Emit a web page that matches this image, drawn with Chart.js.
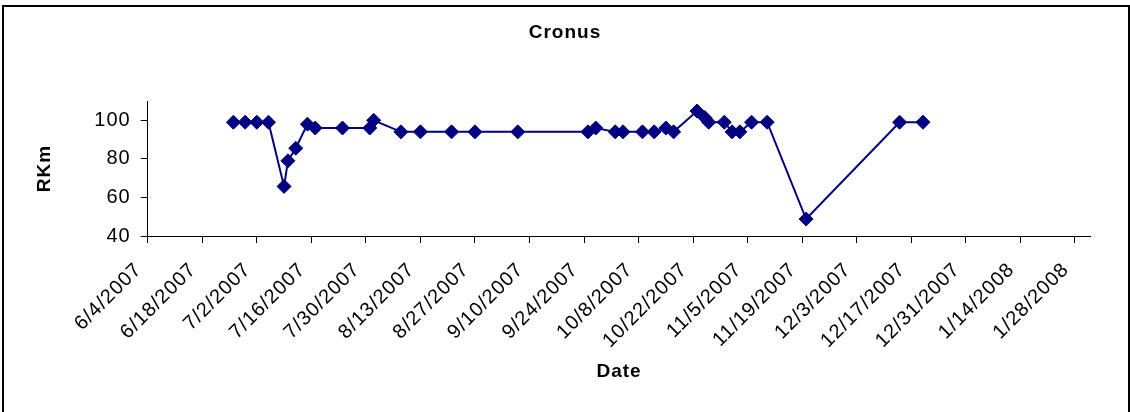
<!DOCTYPE html>
<html><head><meta charset="utf-8">
<script src="https://cdn.jsdelivr.net/npm/chart.js@4.4.0/dist/chart.umd.min.js"></script>
<style>html,body{margin:0;padding:0;background:#fff;} canvas{display:block;}</style>
</head><body>
<canvas id="c" width="1130" height="412"></canvas>
<script>
// ---- data ----
const dates = ['6/26/2007','6/29/2007','7/2/2007','7/5/2007','7/9/2007','7/10/2007','7/12/2007','7/15/2007','7/17/2007','7/24/2007',
  '7/31/2007','8/1/2007','8/8/2007','8/13/2007','8/21/2007','8/27/2007','9/7/2007','9/25/2007','9/27/2007','10/2/2007',
  '10/4/2007','10/9/2007','10/12/2007','10/15/2007','10/17/2007','10/23/2007','10/25/2007','10/26/2007','10/30/2007','11/1/2007',
  '11/3/2007','11/6/2007','11/10/2007','11/20/2007','12/14/2007','12/20/2007'];
const rkm = [99,99,99,99,65.7,79,85.5,98,96,96,
  96,100,94,94,94,94,94,94,96,94,
  94,94,94,96,94,104.8,101.4,99,99,94,
  94,99,99,48.8,99,99];
const xTickLabels = ['6/4/2007','6/18/2007','7/2/2007','7/16/2007','7/30/2007','8/13/2007','8/27/2007','9/10/2007','9/24/2007',
  '10/8/2007','10/22/2007','11/5/2007','11/19/2007','12/3/2007','12/17/2007','12/31/2007','1/14/2008','1/28/2008'];
const xAxisStart = '6/4/2007';
const xAxisEnd = '2/1/2008';
const yTickValues = [40,60,80,100];
const yAxisMin = 40, yAxisMax = 110;
const chartTitle = 'Cronus', xTitle = 'Date', yTitle = 'RKm';

// ---- helpers ----
function dayNum(s){const [m,d,y]=s.split('/').map(Number);return (Date.UTC(y,m-1,d)-Date.UTC(2007,5,4))/86400000;}
const points = dates.map((d,i)=>({x:dayNum(d), y:rkm[i]}));

const FONT = "'Liberation Sans', Arial, sans-serif";
Chart.defaults.font.family = FONT;
Chart.defaults.color = '#000';

const frame = {
  id:'frame',
  beforeUpdate(chart){ if ('letterSpacing' in chart.ctx) chart.ctx.letterSpacing = '1px'; },
  beforeDraw(chart){const c=chart.ctx; if ('letterSpacing' in c) c.letterSpacing='1px'; c.save();c.fillStyle='#fff';c.fillRect(0,0,chart.width,chart.height);c.restore();},
  afterDraw(chart){
    const c=chart.ctx;c.save();c.strokeStyle='#000';c.lineWidth=2;
    c.beginPath();
    c.moveTo(3,chart.height);c.lineTo(3,6);c.lineTo(chart.width-1,6);c.lineTo(chart.width-1,chart.height);
    c.stroke();c.restore();
  }
};

new Chart(document.getElementById('c'), {
  type:'line',
  data:{datasets:[{
    data:points,
    borderColor:'#000080', borderWidth:2, tension:0,
    pointStyle:'rectRot', pointRadius:7, pointHoverRadius:7,
    pointBackgroundColor:'#000080', pointBorderColor:'#000080', pointBorderWidth:1
  }]},
  options:{
    responsive:false, animation:false,
    layout:{padding:0},
    plugins:{
      legend:{display:false}, tooltip:{enabled:false},
      title:{display:true,text:chartTitle,font:{size:19,weight:'bold',family:FONT,lineHeight:1.2},color:'#000',padding:{top:21.6,bottom:56.6}}
    },
    scales:{
      x:{
        type:'linear', min:dayNum(xAxisStart), max:dayNum(xAxisEnd),
        afterBuildTicks(s){s.ticks = xTickLabels.map(l=>({value:dayNum(l)}));},
        afterFit(s){s.height = 412-236; s.paddingRight = 39.5; s.paddingLeft = 0;},
        ticks:{autoSkip:false,minRotation:45,maxRotation:45,padding:15,labelOffset:-9,font:{size:20},color:'#000',
          callback:(v,i)=>xTickLabels[i]},
        grid:{display:true,drawOnChartArea:false,drawTicks:true,tickLength:7,color:'#000',lineWidth:1},
        border:{display:true,color:'#000',width:1},
        title:{display:true,text:xTitle,font:{size:19,weight:'bold',lineHeight:1.2},color:'#000',padding:{top:0,bottom:28.6}}
      },
      y:{
        min:yAxisMin, max:yAxisMax,
        afterBuildTicks(s){s.ticks = yTickValues.map(v=>({value:v}));},
        afterFit(s){s.width = 147.7;},
        ticks:{padding:10,font:{size:20},color:'#000'},
        grid:{display:true,drawOnChartArea:false,drawTicks:true,tickLength:7,color:'#000',lineWidth:1},
        border:{display:true,color:'#000',width:1},
        title:{display:true,text:yTitle,font:{size:19,weight:'bold',lineHeight:1.2},color:'#000',padding:{top:33.6,bottom:0}}
      }
    }
  },
  plugins:[frame]
});
</script>
</body></html>
